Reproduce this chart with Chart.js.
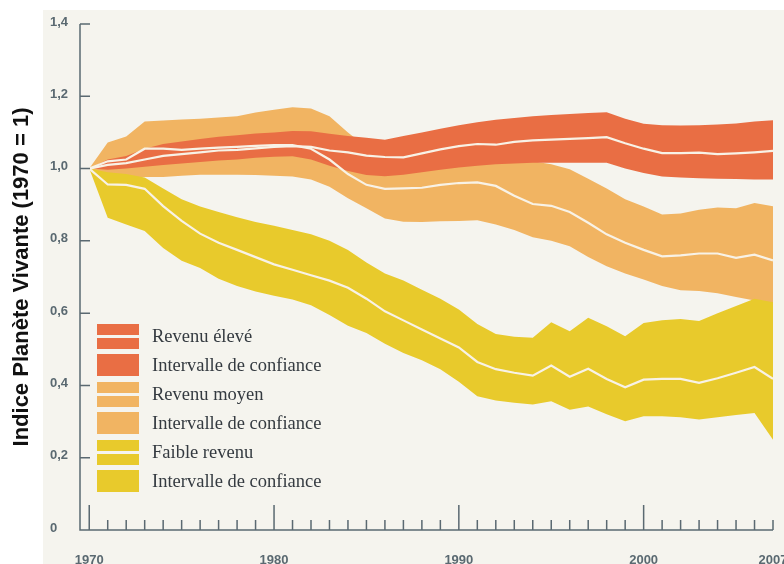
<!DOCTYPE html>
<html lang="fr">
<head>
    <meta charset="UTF-8">
    <meta name="viewport" content="width=device-width, initial-scale=1.0">
    <script src="https://cdn.jsdelivr.net/npm/chart.js"></script>
    <title>Indice Planète Vivante</title>
    <style>
        html, body { margin: 0; padding: 0; background: #fff; }
        #wrap { position: relative; width: 784px; height: 564px; overflow: hidden; }
        #paper { position: absolute; left: 43px; top: 10px; right: 0; bottom: 0; background: #f5f4ee; }
        #lpiChart { position: absolute; left: 0; top: 0; }
        #legend { position: absolute; left: 97px; top: 322px; font-family: "Liberation Serif", "Times New Roman", serif; font-size: 18.5px; color: #343a40; }
        .row { position: absolute; left: 0; height: 28px; display: flex; align-items: center; white-space: nowrap; }
        .sw { width: 42px; margin-right: 13px; position: relative; }
        .sw .gap { position: absolute; left: 0; right: 0; top: 11px; height: 3px; background: #f5f4ee; }
    </style>
</head>
<body>
<div id="wrap">
    <div id="paper"></div>
    <canvas id="lpiChart" width="784" height="564"></canvas>
    <div id="legend"></div>
</div>
<script>
    const years = [1970, 1971, 1972, 1973, 1974, 1975, 1976, 1977, 1978, 1979,
                   1980, 1981, 1982, 1983, 1984, 1985, 1986, 1987, 1988, 1989,
                   1990, 1991, 1992, 1993, 1994, 1995, 1996, 1997, 1998, 1999,
                   2000, 2001, 2002, 2003, 2004, 2005, 2006, 2007]
    const yearLabels = [1970, 1980, 1990, 2000, 2007]
    const yTicks = [0, 0.2, 0.4, 0.6, 0.8, 1.0, 1.2, 1.4]

    // revenu élevé
    const highMean  = [1.00, 1.01, 1.015, 1.025, 1.035, 1.04, 1.045, 1.05, 1.052, 1.056,
                       1.06, 1.062, 1.06, 1.05, 1.045, 1.036, 1.032, 1.031, 1.042, 1.053,
                       1.062, 1.068, 1.066, 1.074, 1.078, 1.08, 1.082, 1.084, 1.087, 1.07,
                       1.055, 1.043, 1.043, 1.044, 1.04, 1.042, 1.045, 1.049]
    const highUpper = [1.00, 1.025, 1.035, 1.055, 1.068, 1.075, 1.082, 1.088, 1.092, 1.097,
                       1.10, 1.104, 1.103, 1.096, 1.09, 1.085, 1.08, 1.09, 1.10, 1.11,
                       1.12, 1.128, 1.135, 1.14, 1.145, 1.148, 1.151, 1.154, 1.156, 1.138,
                       1.124, 1.12, 1.119, 1.12, 1.122, 1.125, 1.13, 1.134]
    const highLower = [1.00, 0.997, 1.0, 1.005, 1.01, 1.014, 1.018, 1.022, 1.025, 1.03,
                       1.033, 1.034, 1.025, 1.008, 0.993, 0.982, 0.979, 0.983, 0.99, 0.997,
                       1.003, 1.008, 1.012, 1.014, 1.016, 1.016, 1.016, 1.016, 1.016, 1.0,
                       0.988, 0.978, 0.975, 0.973, 0.972, 0.971, 0.97, 0.97]

    // revenu moyen
    const midMean  = [1.00, 1.02, 1.025, 1.055, 1.055, 1.052, 1.055, 1.058, 1.06, 1.063,
                      1.065, 1.065, 1.055, 1.025, 0.985, 0.955, 0.944, 0.945, 0.947, 0.955,
                      0.96, 0.962, 0.952, 0.925, 0.902, 0.897, 0.88, 0.85, 0.818, 0.795,
                      0.775, 0.757, 0.76, 0.765, 0.765, 0.753, 0.762, 0.746]
    const midUpper = [1.00, 1.072, 1.089, 1.13, 1.133, 1.136, 1.138, 1.141, 1.145, 1.155,
                      1.163, 1.17, 1.166, 1.145, 1.1, 1.06, 1.02, 1.0, 1.0, 1.01,
                      1.015, 1.02, 1.025, 1.025, 1.02, 1.012, 0.998, 0.972, 0.945, 0.915,
                      0.895, 0.873, 0.876, 0.886, 0.892, 0.89, 0.905, 0.896]
    const midLower = [1.00, 0.983, 0.976, 0.977, 0.977, 0.98, 0.983, 0.983, 0.983, 0.982,
                      0.98, 0.978, 0.97, 0.95, 0.918, 0.89, 0.862, 0.853, 0.852, 0.854,
                      0.855, 0.857, 0.845, 0.83, 0.81, 0.80, 0.785, 0.755, 0.73, 0.71,
                      0.693, 0.675, 0.663, 0.661, 0.655, 0.645, 0.635, 0.625]

    // faible revenu
    const lowMean  = [1.00, 0.956, 0.955, 0.944, 0.896, 0.855, 0.82, 0.795, 0.775, 0.755,
                      0.735, 0.72, 0.705, 0.69, 0.67, 0.64, 0.605, 0.58, 0.555, 0.53,
                      0.505, 0.465, 0.445, 0.435, 0.427, 0.455, 0.424, 0.446, 0.418, 0.395,
                      0.416, 0.418, 0.418, 0.407, 0.42, 0.435, 0.451, 0.418]
    const lowUpper = [1.00, 0.99, 0.985, 0.975, 0.945, 0.915, 0.895, 0.88, 0.865, 0.852,
                      0.842, 0.83, 0.818, 0.80, 0.775, 0.74, 0.71, 0.69, 0.665, 0.64,
                      0.61, 0.57, 0.542, 0.535, 0.532, 0.575, 0.55, 0.587, 0.564, 0.536,
                      0.573, 0.58, 0.584, 0.578, 0.60, 0.62, 0.64, 0.63]
    const lowLower = [1.00, 0.864, 0.845, 0.827, 0.78, 0.745, 0.725, 0.695, 0.675, 0.66,
                      0.648, 0.638, 0.622, 0.595, 0.565, 0.545, 0.515, 0.49, 0.47, 0.445,
                      0.41, 0.37, 0.358, 0.352, 0.347, 0.356, 0.333, 0.342, 0.32, 0.301,
                      0.315, 0.315, 0.312, 0.306, 0.312, 0.318, 0.324, 0.25]

    const legendNames = ['Revenu élevé', 'Intervalle de confiance', 'Revenu moyen',
                         'Intervalle de confiance', 'Faible revenu', 'Intervalle de confiance']

    const red = '#e96e44'
    const orange = '#f1b462'
    const yellow = '#e8ca2c'
    const lineColor = '#f8f2e6'
    const axisColor = '#5a6971'

    const pts = arr => years.map((yr, i) => ({ x: yr, y: arr[i] }))

    function band(arr, color, order, fill) {
        return {
            data: pts(arr),
            borderWidth: 0,
            borderColor: 'transparent',
            backgroundColor: color,
            pointRadius: 0,
            tension: 0,
            fill: fill,
            order: order
        }
    }
    function meanLine(arr) {
        return {
            data: pts(arr),
            borderWidth: 2.2,
            borderColor: lineColor,
            pointRadius: 0,
            tension: 0,
            fill: false,
            order: 0
        }
    }

    // axes with inward ticks, drawn from the chart scales
    const axesPlugin = {
        id: 'axes',
        afterDraw(chart) {
            const { ctx, chartArea: a, scales: { x, y } } = chart
            ctx.save()
            ctx.strokeStyle = axisColor
            ctx.lineWidth = 1.5
            ctx.beginPath()
            ctx.moveTo(a.left, y.getPixelForValue(1.4))
            ctx.lineTo(a.left, a.bottom)
            ctx.lineTo(x.getPixelForValue(2007), a.bottom)
            yTicks.forEach(v => {
                if (v === 0) return
                const py = y.getPixelForValue(v)
                ctx.moveTo(a.left, py)
                ctx.lineTo(a.left + 10, py)
            })
            years.forEach(yr => {
                const px = x.getPixelForValue(yr)
                ctx.moveTo(px, a.bottom)
                ctx.lineTo(px, a.bottom - (yr % 10 === 0 ? 25 : 10))
            })
            ctx.stroke()
            ctx.restore()
        }
    }

    const ctx = document.getElementById('lpiChart').getContext('2d')
    const lpiChart = new Chart(ctx, {
        type: 'line',
        data: {
            datasets: [
                meanLine(highMean),                    // 0
                meanLine(midMean),                     // 1
                meanLine(lowMean),                     // 2
                band(highUpper, red, 2, '+1'),         // 3
                band(highLower, red, 2, false),        // 4
                band(midUpper, orange, 3, '+1'),       // 5
                band(midLower, orange, 3, false),      // 6
                band(lowUpper, yellow, 1, '+1'),       // 7
                band(lowLower, yellow, 1, false)       // 8
            ]
        },
        options: {
            responsive: false,
            animation: false,
            devicePixelRatio: 1,
            layout: { padding: { top: 24, right: 11, bottom: 0, left: 0 } },
            plugins: { legend: { display: false }, tooltip: { enabled: false } },
            scales: {
                x: {
                    type: 'linear',
                    min: 1969.5,
                    max: 2007,
                    grid: { display: false },
                    border: { display: false },
                    afterBuildTicks: s => { s.ticks = yearLabels.map(v => ({ value: v })) },
                    afterFit: s => { s.height = 34; s.paddingLeft = 0; s.paddingRight = 0 },
                    ticks: {
                        autoSkip: false,
                        maxRotation: 0,
                        padding: 15,
                        color: axisColor,
                        font: { family: '"Liberation Sans", Arial, sans-serif', size: 13, weight: 'bold' },
                        callback: v => String(v)
                    }
                },
                y: {
                    min: 0,
                    max: 1.4,
                    grid: { display: false, drawTicks: false },
                    border: { display: false },
                    afterBuildTicks: s => { s.ticks = yTicks.map(v => ({ value: v })) },
                    afterFit: s => { s.width = 80; s.paddingTop = 0; s.paddingBottom = 0 },
                    ticks: {
                        padding: 12,
                        labelOffset: -2,
                        color: axisColor,
                        font: { family: '"Liberation Sans", Arial, sans-serif', size: 13, weight: 'bold' },
                        callback: v => v === 0 ? '0   ' : v.toFixed(1).replace('.', ',')
                    },
                    title: {
                        display: true,
                        text: 'Indice Planète Vivante (1970 = 1)',
                        color: '#111',
                        padding: { top: 9, bottom: 0 },
                        font: { family: '"Liberation Sans", Arial, sans-serif', size: 22, weight: 'bold' }
                    }
                }
            }
        },
        plugins: [axesPlugin]
    })

    // légende
    const legendColors = [red, red, orange, orange, yellow, yellow]
    const legend = document.getElementById('legend')
    legendNames.forEach((name, i) => {
        const row = document.createElement('div')
        row.className = 'row'
        row.style.top = (i * 29) + 'px'
        const sw = document.createElement('div')
        sw.className = 'sw'
        sw.style.background = legendColors[i]
        sw.style.height = (i % 2 === 0 ? 25 : 22) + 'px'
        if (i % 2 === 0) {
            const gap = document.createElement('div')
            gap.className = 'gap'
            sw.appendChild(gap)
        }
        const label = document.createElement('span')
        label.textContent = name
        row.appendChild(sw)
        row.appendChild(label)
        legend.appendChild(row)
    })
</script>
</body>
</html>
